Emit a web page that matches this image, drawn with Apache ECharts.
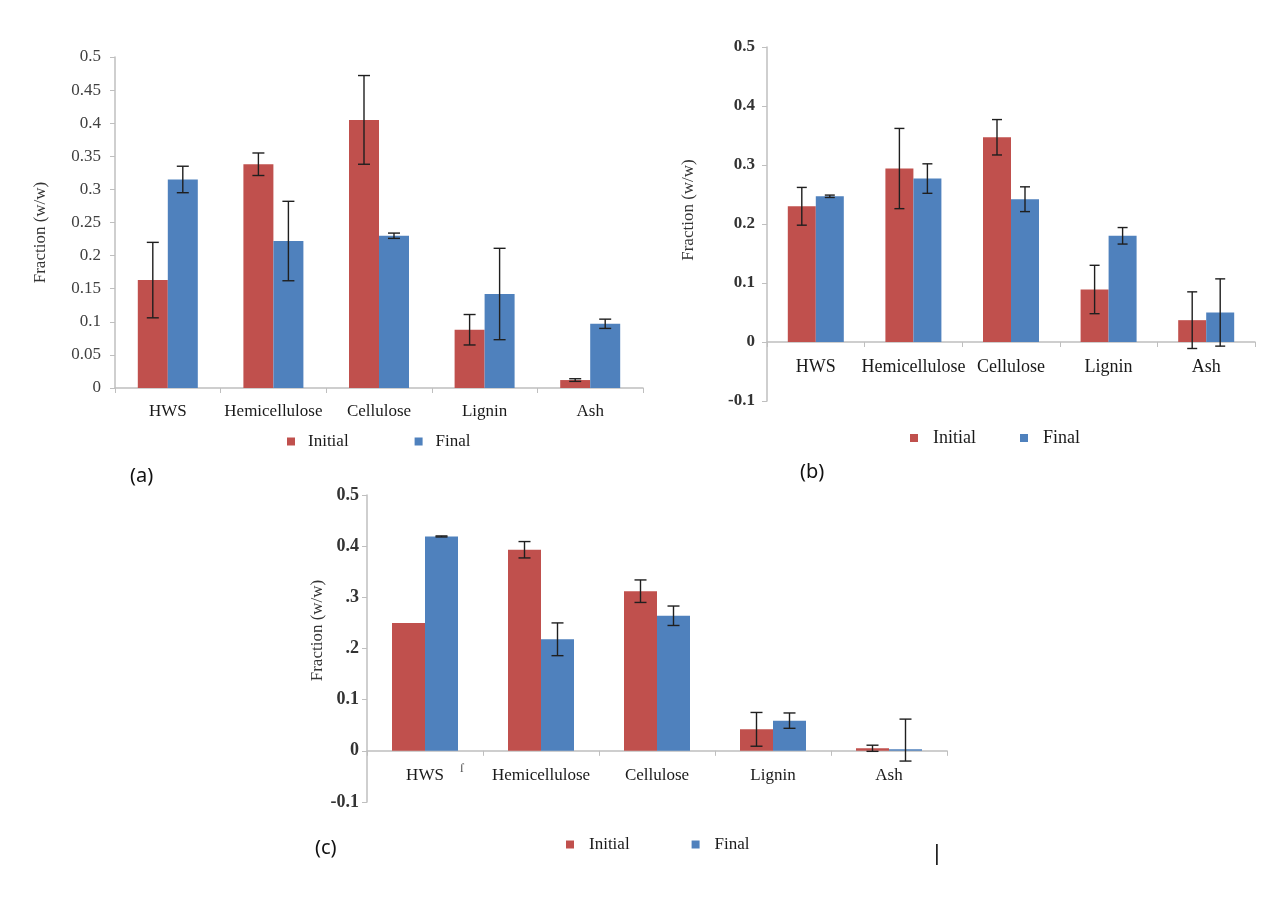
<!DOCTYPE html>
<html>
<head>
<meta charset="utf-8">
<title>Fraction (w/w) – Initial vs Final</title>
<script src="https://cdn.jsdelivr.net/npm/echarts@6/dist/echarts.min.js"></script>
<style>
  html, body { margin: 0; padding: 0; background: #fff; }
  #chart { width: 1271px; height: 905px; }
</style>
</head>
<body>
<div id="chart"></div>
<script>
// same components in all three panels
const categories = ['HWS', 'Hemicellulose', 'Cellulose', 'Lignin', 'Ash'];

// panel (a)
const initialA = [0.163, 0.338, 0.405, 0.088, 0.012];
const finalA = [0.315, 0.222, 0.230, 0.142, 0.097];
const initialErrA = [0.057, 0.017, 0.067, 0.023, 0.002];
const finalErrA = [0.020, 0.060, 0.004, 0.069, 0.007];

// panel (b)
const initialB = [0.230, 0.294, 0.347, 0.089, 0.037];
const finalB = [0.247, 0.277, 0.242, 0.180, 0.050];
const initialErrB = [0.032, 0.068, 0.030, 0.041, 0.048];
const finalErrB = [0.002, 0.025, 0.021, 0.014, 0.057];

// panel (c)
const initialC = [0.250, 0.393, 0.312, 0.042, 0.005];
const finalC = [0.419, 0.218, 0.264, 0.059, 0.003];
const initialErrC = [0.000, 0.016, 0.022, 0.033, 0.006];
const finalErrC = [0.001, 0.032, 0.019, 0.015, 0.059];
const finalErrDownC = [0.001, 0.032, 0.019, 0.015, 0.023]; // ash bar is cut short below
// the scan lost the leading zero on two of the (c) ticks
const yTickLabelsC = ['-0.1', '0', '0.1', '.2', '.3', '0.4', '0.5'];

const RED = '#C0504D';
const BLUE = '#4F81BD';
const SERIF = '"Liberation Serif", "Times New Roman", serif';

const panels = [
  {
    tag: '(a)', tagX: 130, tagY: 466,
    grid: { left: 115, top: 57, width: 528, height: 331 },
    min: 0, max: 0.5, interval: 0.05, tickLabels: null,
    barWidth: 30, cap: 6,
    initial: initialA, final: finalA,
    initialErr: initialErrA, finalErr: finalErrA, finalErrDown: finalErrA,
    yFont: 17, yBold: 'normal', yColor: '#404040', yMargin: 14, nameGap: 66, namePad: [0, 20, 0, 0],
    xFont: 17, xMargin: 15,
    legendLeft: 287, legendTop: 433, legendGap: 66, legendFont: 17, legendPad: 8,
  },
  {
    tag: '(b)', tagX: 800, tagY: 462,
    grid: { left: 767, top: 47, width: 488, height: 354 },
    min: -0.1, max: 0.5, interval: 0.1, tickLabels: null,
    barWidth: 28, cap: 5,
    initial: initialB, final: finalB,
    initialErr: initialErrB, finalErr: finalErrB, finalErrDown: finalErrB,
    yFont: 17, yBold: 'bold', yColor: '#333', yMargin: 12, nameGap: 70, namePad: [0, 0, 0, 28],
    xFont: 18, xMargin: 16,
    legendLeft: 910, legendTop: 429, legendGap: 44, legendFont: 18, legendPad: 10,
  },
  {
    tag: '(c)', tagX: 315, tagY: 838,
    grid: { left: 367, top: 495, width: 580, height: 307 },
    min: -0.1, max: 0.5, interval: 0.1, tickLabels: yTickLabelsC,
    barWidth: 33, cap: 6,
    initial: initialC, final: finalC,
    initialErr: initialErrC, finalErr: finalErrC, finalErrDown: finalErrDownC,
    yFont: 18, yBold: 'bold', yColor: '#333', yMargin: 8, nameGap: 41, namePad: [0, 0, 0, 36],
    xFont: 17, xMargin: 16,
    legendLeft: 566, legendTop: 836, legendGap: 62, legendFont: 17, legendPad: 10,
  },
];

// vertical whisker with caps, shifted onto the left or right bar of a group
function errorBars(shift, cap) {
  return function (params, api) {
    const idx = api.value(0);
    const lo = api.coord([idx, api.value(1)]);
    const hi = api.coord([idx, api.value(2)]);
    if (Math.abs(lo[1] - hi[1]) < 0.5) return null;
    const x = lo[0] + shift;
    const style = { stroke: '#1f1f1f', lineWidth: 1.4 };
    return {
      type: 'group',
      children: [
        { type: 'line', shape: { x1: x, y1: lo[1], x2: x, y2: hi[1] }, style },
        { type: 'line', shape: { x1: x - cap, y1: hi[1], x2: x + cap, y2: hi[1] }, style },
        { type: 'line', shape: { x1: x - cap, y1: lo[1], x2: x + cap, y2: lo[1] }, style },
      ],
    };
  };
}

const grids = [];
const xAxes = [];
const yAxes = [];
const legends = [];
const series = [];
const graphics = [];

panels.forEach((p, i) => {
  grids.push(Object.assign({ outerBoundsMode: 'none', containLabel: false }, p.grid));

  // the category axis sits on y = 0, labels just under it
  const zeroOffset = -p.grid.height * (0 - p.min) / (p.max - p.min);
  xAxes.push({
    type: 'category',
    gridIndex: i,
    data: categories,
    offset: zeroOffset,
    axisLine: { show: true, onZero: false, lineStyle: { color: '#BFBFBF', width: 1.5 } },
    axisTick: { show: true, length: 5, lineStyle: { color: '#BFBFBF' } },
    axisLabel: {
      interval: 0, margin: p.xMargin, color: '#1a1a1a',
      fontFamily: SERIF, fontSize: p.xFont,
    },
    splitLine: { show: false },
  });

  yAxes.push({
    type: 'value',
    gridIndex: i,
    min: p.min, max: p.max, interval: p.interval,
    name: 'Fraction (w/w)',
    nameLocation: 'middle',
    nameRotate: 90,
    nameGap: p.nameGap,
    nameTextStyle: { fontFamily: SERIF, fontSize: 17, color: '#333', padding: p.namePad },
    axisLine: { show: true, lineStyle: { color: '#BFBFBF', width: 1.5 } },
    axisTick: { show: true, length: 5, lineStyle: { color: '#BFBFBF' } },
    axisLabel: {
      margin: p.yMargin, color: p.yColor,
      fontFamily: SERIF, fontSize: p.yFont, fontWeight: p.yBold,
      formatter: p.tickLabels ? (v, k) => p.tickLabels[k] : null,
    },
    splitLine: { show: false },
  });

  legends.push({
    left: p.legendLeft, top: p.legendTop, padding: 0,
    icon: 'rect', itemWidth: 8, itemHeight: 8, itemGap: p.legendGap,
    data: ['Initial', 'Final'],
    selectedMode: false,
    textStyle: {
      fontFamily: SERIF, fontSize: p.legendFont, color: '#1a1a1a',
      padding: [0, 0, 0, p.legendPad],
    },
  });

  series.push({
    name: 'Initial', type: 'bar', xAxisIndex: i, yAxisIndex: i,
    data: p.initial, barWidth: p.barWidth, barGap: '0%',
    itemStyle: { color: RED }, z: 2,
  });
  series.push({
    name: 'Final', type: 'bar', xAxisIndex: i, yAxisIndex: i,
    data: p.final, barWidth: p.barWidth, barGap: '0%',
    itemStyle: { color: BLUE }, z: 2,
  });
  series.push({
    name: 'Initial error', type: 'custom', xAxisIndex: i, yAxisIndex: i,
    renderItem: errorBars(-p.barWidth / 2, p.cap),
    encode: { x: 0, y: [1, 2] },
    data: p.initial.map((v, k) => [k, v - p.initialErr[k], v + p.initialErr[k]]),
    z: 5, silent: true,
  });
  series.push({
    name: 'Final error', type: 'custom', xAxisIndex: i, yAxisIndex: i,
    renderItem: errorBars(p.barWidth / 2, p.cap),
    encode: { x: 0, y: [1, 2] },
    data: p.final.map((v, k) => [k, v - p.finalErrDown[k], v + p.finalErr[k]]),
    z: 5, silent: true,
  });

  graphics.push({
    type: 'text', left: p.tagX, top: p.tagY,
    style: { text: p.tag, font: '20px "Noto Sans", sans-serif', fill: '#111' },
  });
});

// stray marks left over in the scanned figure
graphics.push({
  type: 'text', left: 460, top: 762,
  style: { text: 'ſ', font: '13px "Liberation Serif", serif', fill: '#555' },
});
graphics.push({
  type: 'text', left: 934, top: 843,
  style: { text: '|', font: '22px "Liberation Sans", sans-serif', fill: '#222' },
});

const chart = echarts.init(document.getElementById('chart'), null, { renderer: 'canvas' });
chart.setOption({
  backgroundColor: '#fff',
  animation: false,
  grid: grids,
  xAxis: xAxes,
  yAxis: yAxes,
  legend: legends,
  series: series,
  graphic: graphics,
});
</script>
</body>
</html>
